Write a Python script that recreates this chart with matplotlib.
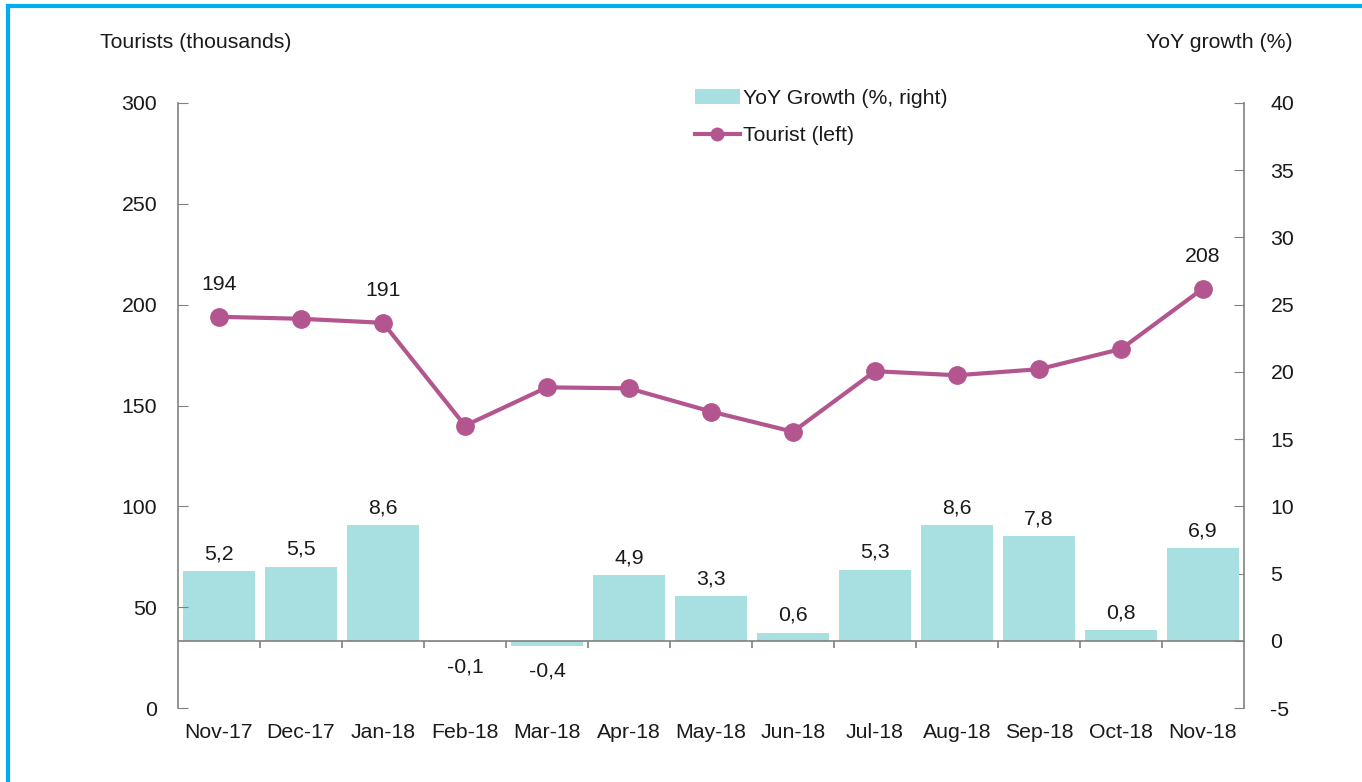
import numpy as np
import matplotlib.pyplot as plt
from matplotlib.patches import Patch
from matplotlib.lines import Line2D

plt.rcParams['font.family'] = ['Liberation Sans', 'DejaVu Sans']
plt.rcParams['axes.unicode_minus'] = False

months = ['Nov-17', 'Dec-17', 'Jan-18', 'Feb-18', 'Mar-18', 'Apr-18', 'May-18',
          'Jun-18', 'Jul-18', 'Aug-18', 'Sep-18', 'Oct-18', 'Nov-18']
tourists = [194, 193, 191, 140, 159, 158.5, 147, 137, 167, 165, 168, 178, 208]
growth = [5.2, 5.5, 8.6, -0.1, -0.4, 4.9, 3.3, 0.6, 5.3, 8.6, 7.8, 0.8, 6.9]
# only these points carry a value label on the line
tourist_labels = {0: '194', 2: '191', 12: '208'}

bar_color = '#a8dfe1'
line_color = '#b3568f'
axis_color = '#808080'
text_color = '#1a1a1a'
fs = 15.3

fig = plt.figure(figsize=(13.62, 7.82), dpi=100)
ax = fig.add_axes([178 / 1362, 1 - 708 / 782, 1066 / 1362, 605 / 782])
ax2 = ax.twinx()
ax.set_zorder(ax2.get_zorder() + 1)
ax.patch.set_visible(False)

x = np.arange(len(months))

# bars (right axis)
ax2.bar(x, growth, width=0.88, color=bar_color, zorder=2)
ax2.axhline(0, color=axis_color, lw=1.2, zorder=3)
ax2.vlines(x[:-1] + 0.5, -0.5, 0, color=axis_color, lw=1.2, zorder=3)
for xi, g in zip(x, growth):
    lab = ('%.1f' % g).replace('.', ',')
    if g >= 0:
        ax2.annotate(lab, (xi, g), xytext=(0, 12.5), textcoords='offset points',
                     ha='center', va='center', fontsize=fs, color=text_color)
    else:
        ax2.annotate(lab, (xi, g), xytext=(0, -18), textcoords='offset points',
                     ha='center', va='center', fontsize=fs, color=text_color)

# line (left axis)
ax.plot(x, tourists, color=line_color, lw=3, marker='o', markersize=12.5, zorder=5)
for i, lab in tourist_labels.items():
    ax.annotate(lab, (x[i], tourists[i]), xytext=(0, 23), textcoords='offset points',
                ha='center', va='center', fontsize=fs, color=text_color)

ax.set_xlim(-0.5, len(months) - 0.5)
ax.set_ylim(0, 300)
ax2.set_ylim(-5, 40)
ax.set_yticks(range(0, 301, 50))
ax2.set_yticks(range(-5, 41, 5))
ax.set_xticks(x)
ax.set_xticklabels(months)

for a in (ax, ax2):
    a.spines['top'].set_visible(False)
    a.spines['bottom'].set_visible(False)
    a.spines['left'].set_color(axis_color)
    a.spines['right'].set_color(axis_color)
    a.spines['left'].set_linewidth(1.2)
    a.spines['right'].set_linewidth(1.2)
ax.spines['right'].set_visible(False)
ax2.spines['left'].set_visible(False)

ax.tick_params(axis='y', direction='in', length=7, color=axis_color,
               labelsize=fs, labelcolor=text_color, pad=15)
ax2.tick_params(axis='y', direction='in', length=7, color=axis_color,
                labelsize=fs, labelcolor=text_color, pad=19)
ax.tick_params(axis='x', length=0, labelsize=fs, labelcolor=text_color, pad=11)

fig.text(100 / 1362, 1 - 42 / 782, 'Tourists (thousands)', fontsize=fs,
         color=text_color, ha='left', va='center')
fig.text(1293 / 1362, 1 - 42 / 782, 'YoY growth (%)', fontsize=fs,
         color=text_color, ha='right', va='center')

handles = [Patch(facecolor=bar_color, edgecolor='none'),
           Line2D([0], [0], color=line_color, lw=3, marker='o', markersize=9)]
fig.legend(handles, ['YoY Growth (%, right)', 'Tourist (left)'],
           loc='upper left', bbox_to_anchor=(676 / 1362, 1 - 70 / 782),
           frameon=False, fontsize=fs, handlelength=2.1, handletextpad=0.15,
           labelspacing=0.85, labelcolor=text_color)

# cyan frame along top and left edge
fig.add_artist(Line2D([8 / 1362, 1], [1 - 6 / 782, 1 - 6 / 782],
                      transform=fig.transFigure, color='#00b0ee', lw=3))
fig.add_artist(Line2D([8 / 1362, 8 / 1362], [0, 1 - 6 / 782],
                      transform=fig.transFigure, color='#00b0ee', lw=3))

fig.savefig('out.png', dpi=100)
